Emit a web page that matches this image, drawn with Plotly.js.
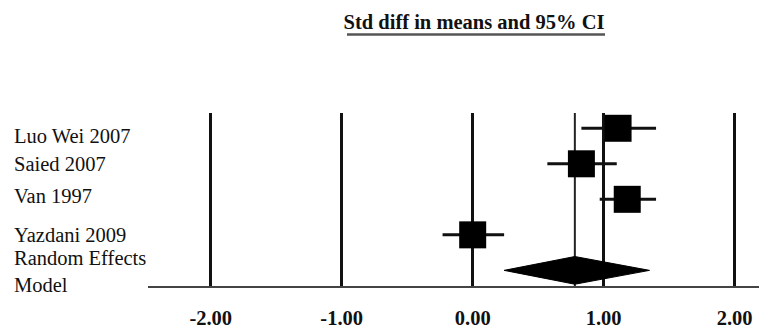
<!DOCTYPE html>
<html>
<head>
<meta charset="utf-8">
<script src="https://cdn.plot.ly/plotly-3.0.1.min.js"></script>
<style>html,body{margin:0;padding:0;background:#fff;}#chart{width:759px;height:329px;}</style>
</head>
<body>
<div id="chart"></div>
<script>
// ---- data ----
var studies = ["Luo Wei 2007", "Saied 2007", "Van 1997", "Yazdani 2009"];
var estimates = [1.11, 0.83, 1.18, 0.00];
var lowerCI = [0.83, 0.57, 0.97, -0.23];
var upperCI = [1.40, 1.10, 1.40, 0.24];
var pooledLabel = "Random Effects<br>Model";
var pooledEstimate = 0.78;
var pooledLower = 0.24;
var pooledUpper = 1.35;
var tickValues = [-2, -1, 0, 1, 2];
var tickLabels = ["-2.00", "-1.00", "0.00", "1.00", "2.00"];
var chartTitle = "Std diff in means and 95% CI";

// ---- build ----
var rows = studies.map(function (s, i) { return i; });
var pooledRow = studies.length;
var serif = "Liberation Serif, Times New Roman, serif";
var labelShift = [-8, 0, 3, 0];

var studyTrace = {
  type: "scatter", mode: "markers",
  x: estimates, y: rows,
  marker: { symbol: "square", size: 27, color: "#000" },
  error_x: {
    type: "data", symmetric: false,
    array: estimates.map(function (e, i) { return upperCI[i] - e; }),
    arrayminus: estimates.map(function (e, i) { return e - lowerCI[i]; }),
    color: "#111", thickness: 3, width: 0
  },
  hoverinfo: "skip", showlegend: false
};

var dh = 0.39;
var diamond = {
  type: "scatter", mode: "lines", fill: "toself", fillcolor: "#000",
  x: [pooledLower, pooledEstimate, pooledUpper, pooledEstimate, pooledLower],
  y: [pooledRow, pooledRow - dh, pooledRow, pooledRow + dh, pooledRow],
  line: { color: "#000", width: 1 },
  hoverinfo: "skip", showlegend: false
};

var annotations = studies.map(function (s, i) {
  return {
    text: s, xref: "paper", x: -0.222, xanchor: "left",
    yref: "y", y: i, yanchor: "middle", yshift: labelShift[i],
    showarrow: false, font: { family: serif, size: 20.5, color: "#111" }
  };
});
annotations.push({
  text: pooledLabel, xref: "paper", x: -0.222, xanchor: "left", align: "left",
  yref: "y", y: pooledRow, yanchor: "middle", yshift: -1,
  showarrow: false, font: { family: serif, size: 20.5, color: "#111" }
});

var layout = {
  width: 759, height: 329,
  margin: { l: 148, r: 0, t: 113, b: 43 },
  paper_bgcolor: "#fff", plot_bgcolor: "#fff",
  title: {
    text: chartTitle,
    xref: "container", x: 0.6245, xanchor: "center",
    yref: "container", y: 0.933, yanchor: "middle",
    font: { family: serif, size: 20.5, color: "#111", weight: "bold" }
  },
  xaxis: {
    range: [-2.479, 2.186],
    tickvals: tickValues, ticktext: tickLabels,
    tickfont: { family: serif, size: 20.5, color: "#111", weight: "bold" },
    ticks: "", ticklabelstandoff: 12,
    showgrid: true, gridcolor: "#111", gridwidth: 3,
    zeroline: false,
    showline: true, linecolor: "#444", linewidth: 2,
    fixedrange: true
  },
  yaxis: {
    range: [pooledRow + 0.44, -0.43],
    showticklabels: false, showgrid: false, zeroline: false, showline: false,
    fixedrange: true
  },
  shapes: [
    {
      type: "line", xref: "x", yref: "paper",
      x0: pooledEstimate, x1: pooledEstimate, y0: 0, y1: 1,
      line: { color: "#222", width: 2 }, layer: "below"
    },
    {
      type: "line", xref: "paper", yref: "paper",
      x0: 0.3257, x1: 0.748, y0: 1.4538, y1: 1.4538,
      line: { color: "#555", width: 2.5 }
    }
  ],
  annotations: annotations
};

Plotly.newPlot("chart", [diamond, studyTrace], layout, { displayModeBar: false, staticPlot: true });
</script>
</body>
</html>
